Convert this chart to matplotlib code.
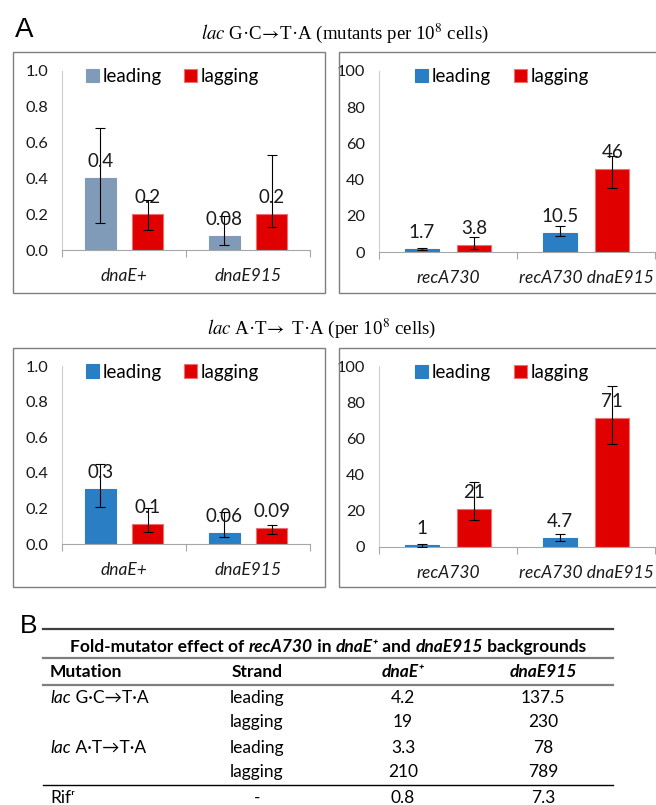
import matplotlib
matplotlib.use('Agg')
import matplotlib.pyplot as plt
from matplotlib.patches import Rectangle
from matplotlib.lines import Line2D
import numpy as np

W, H = 656, 805

SANS = ['Lato', 'DejaVu Sans']
SERIF = ['Liberation Serif', 'DejaVu Serif']

GREYBLUE = '#7f9bb8'
BLUE = '#2a7ec3'
RED = '#e00000'

strains_wt = ['dnaE+', 'dnaE915']
strains_rec = ['recA730', 'recA730 dnaE915']

# lac G.C -> T.A, recA+ backgrounds
gc_wt_lead = [0.40, 0.08]
gc_wt_lead_lo = [0.15, 0.03]
gc_wt_lead_hi = [0.68, 0.19]
gc_wt_lead_lbl = ['0.4', '0.08']
gc_wt_lag = [0.20, 0.20]
gc_wt_lag_lo = [0.11, 0.13]
gc_wt_lag_hi = [0.28, 0.53]
gc_wt_lag_lbl = ['0.2', '0.2']

# lac G.C -> T.A, recA730 backgrounds
gc_rec_lead = [1.7, 10.5]
gc_rec_lead_lo = [0.9, 8.9]
gc_rec_lead_hi = [2.4, 14.4]
gc_rec_lead_lbl = ['1.7', '10.5']
gc_rec_lag = [3.8, 46]
gc_rec_lag_lo = [1.8, 35.4]
gc_rec_lag_hi = [8.3, 53.3]
gc_rec_lag_lbl = ['3.8', '46']

# lac A.T -> T.A, recA+ backgrounds
at_wt_lead = [0.31, 0.06]
at_wt_lead_lo = [0.21, 0.04]
at_wt_lead_hi = [0.45, 0.18]
at_wt_lead_lbl = ['0.3', '0.06']
at_wt_lag = [0.11, 0.09]
at_wt_lag_lo = [0.07, 0.056]
at_wt_lag_hi = [0.20, 0.105]
at_wt_lag_lbl = ['0.1', '0.09']

# lac A.T -> T.A, recA730 backgrounds
at_rec_lead = [1.0, 4.7]
at_rec_lead_lo = [0.2, 3.3]
at_rec_lead_hi = [1.5, 7.4]
at_rec_lead_lbl = ['1', '4.7']
at_rec_lag = [21, 71]
at_rec_lag_lo = [15, 57]
at_rec_lag_hi = [36, 89]
at_rec_lag_lbl = ['21', '71']

# table B
tbl_cols = ['Mutation', 'Strand', 'dnaE\u207a', 'dnaE915']
tbl_mut = [('lac', ' G\u00b7C\u2192T\u00b7A'), None, ('lac', ' A\u00b7T\u2192T\u00b7A'), None]
tbl_strand = ['leading', 'lagging', 'leading', 'lagging', '-']
tbl_wt = ['4.2', '19', '3.3', '210', '0.8']
tbl_e915 = ['137.5', '230', '78', '789', '7.3']

plt.rcParams['font.family'] = SANS
plt.rcParams['mathtext.fontset'] = 'stix'

fig = plt.figure(figsize=(W / 100, H / 100), dpi=100)


def px_axes(x0, x1, ytop, ybot):
    return fig.add_axes([x0 / W, 1 - ybot / H, (x1 - x0) / W, (ybot - ytop) / H])


def frame(x0, x1, ytop, ybot):
    fig.add_artist(Rectangle((x0 / W, 1 - ybot / H), (x1 - x0) / W, (ybot - ytop) / H,
                             transform=fig.transFigure, fill=False, ec='#7f7f7f', lw=1.0))


def bar_panel(ax, cats, lead, lead_lo, lead_hi, lead_lbl, lag, lag_lo, lag_hi, lag_lbl,
              ymax, ystep, fmt, lead_color, legy):
    x = np.arange(len(cats))
    off = 0.19
    w = 0.245
    for xs, v, lo, hi, lbl, col, ec, name in [
            (x - off, lead, lead_lo, lead_hi, lead_lbl, lead_color, lead_color, 'leading'),
            (x + off, lag, lag_lo, lag_hi, lag_lbl, RED, '#f07070', 'lagging')]:
        v = np.array(v, dtype=float)
        err = [v - np.array(lo), np.array(hi) - v]
        ax.bar(xs, v, w, color=col, edgecolor=ec, lw=0.8, label=name, zorder=2)
        ax.errorbar(xs, v, yerr=err, fmt='none', ecolor='black', elinewidth=0.8,
                    capsize=3.5, capthick=0.8, zorder=3)
        for xi, vi, t in zip(xs, v, lbl):
            ax.annotate(t, (xi, vi), xytext=(0, 12), textcoords='offset points',
                        ha='center', va='center', fontsize=13.5, color='#1a1a1a', zorder=4)
    ax.set_xlim(-0.5, len(cats) - 0.5)
    ax.set_ylim(0, ymax)
    ax.set_yticks(np.arange(0, ymax + ystep / 2, ystep))
    ax.set_yticklabels([fmt.format(t) for t in np.arange(0, ymax + ystep / 2, ystep)])
    ax.tick_params(axis='y', length=0, pad=10, labelsize=11.8, labelcolor='#1a1a1a')
    ax.set_xticks(x)
    ax.set_xticklabels(cats, style='italic', fontsize=12.5, color='#1a1a1a')
    ax.tick_params(axis='x', which='major', length=0, pad=13)
    ax.set_xticks(np.arange(-0.5, len(cats)), minor=True)
    ax.tick_params(axis='x', which='minor', length=5, color='#a6a6a6', width=0.8)
    for s in ['top', 'right']:
        ax.spines[s].set_visible(False)
    ax.spines['left'].set_color('#d0d0d0')
    ax.spines['bottom'].set_color('#a6a6a6')
    ax.patch.set_alpha(0)
    ax.legend(loc='center', bbox_to_anchor=(0.445, legy), ncol=2, frameon=False,
              fontsize=13.5, handlelength=0.7, handleheight=0.7, handletextpad=0.2,
              columnspacing=1.2, borderaxespad=0)


# frames around the four charts
frame(13, 325, 52, 293)
frame(339, 680, 52, 293)
frame(13, 325, 348, 587)
frame(339, 680, 348, 587)

ax1 = px_axes(62, 310, 71, 250)
bar_panel(ax1, strains_wt, gc_wt_lead, gc_wt_lead_lo, gc_wt_lead_hi, gc_wt_lead_lbl,
          gc_wt_lag, gc_wt_lag_lo, gc_wt_lag_hi, gc_wt_lag_lbl, 1.0, 0.2, '{:.1f}', GREYBLUE, 0.968)
ax2 = px_axes(379, 655, 71, 252)
bar_panel(ax2, strains_rec, gc_rec_lead, gc_rec_lead_lo, gc_rec_lead_hi, gc_rec_lead_lbl,
          gc_rec_lag, gc_rec_lag_lo, gc_rec_lag_hi, gc_rec_lag_lbl, 100, 20, '{:.0f}', BLUE, 0.968)
ax3 = px_axes(62, 310, 366, 544)
bar_panel(ax3, strains_wt, at_wt_lead, at_wt_lead_lo, at_wt_lead_hi, at_wt_lead_lbl,
          at_wt_lag, at_wt_lag_lo, at_wt_lag_hi, at_wt_lag_lbl, 1.0, 0.2, '{:.1f}', BLUE, 0.966)
ax4 = px_axes(379, 655, 366, 547)
bar_panel(ax4, strains_rec, at_rec_lead, at_rec_lead_lo, at_rec_lead_hi, at_rec_lead_lbl,
          at_rec_lag, at_rec_lag_lo, at_rec_lag_hi, at_rec_lag_lbl, 100, 20, '{:.0f}', BLUE, 0.966)

# panel letters and chart titles
fig.text(15 / W, 1 - 30 / H, 'A', fontsize=20, family=['Liberation Sans', 'DejaVu Sans'], va='center')
fig.text(20 / W, 1 - 626 / H, 'B', fontsize=19, family=['Liberation Sans', 'DejaVu Sans'], va='center')
fig.text(345 / W, 1 - 33 / H,
         '$\\mathit{lac}$ G\u00b7C$\\!\\rightarrow\\!$T\u00b7A (mutants per 10$^{8}$ cells)',
         family=SERIF, fontsize=13.6, ha='center', va='center', math_fontfamily='stix')
fig.text(322 / W, 1 - 328 / H,
         '$\\mathit{lac}$ A\u00b7T$\\!\\rightarrow$ T\u00b7A (per 10$^{8}$ cells)',
         family=SERIF, fontsize=13.6, ha='center', va='center', math_fontfamily='stix')

renderer = fig.canvas.get_renderer()


def rich(x, y, parts, ha='center', size=12.5):
    # parts: (text, weight, style) placed one after the other on one baseline
    texts = [fig.text(0, 0, t, fontsize=size, fontweight=wt, style=st, va='center')
             for t, wt, st in parts]
    widths = [t.get_window_extent(renderer).width for t in texts]
    total = sum(widths)
    cur = x - total / 2 if ha == 'center' else x
    for t, wpx in zip(texts, widths):
        t.set_position((cur / W, 1 - y / H))
        cur += wpx
    return texts


def hline(x0, x1, y, color, lw):
    fig.add_artist(Line2D([x0 / W, x1 / W], [1 - y / H, 1 - y / H], color=color, lw=lw,
                          transform=fig.transFigure))


TX0, TX1 = 43, 613
hline(TX0, TX1, 629, '#404040', 1.6)
hline(TX0, TX1, 658, '#7f7f7f', 1.6)
hline(TX0, TX1, 685, '#7f7f7f', 1.6)
hline(TX0, TX1, 785, '#000000', 1.0)

rich(328, 647, [('Fold-mutator effect of ', 'bold', 'normal'), ('recA730', 'bold', 'italic'),
                (' in ', 'bold', 'normal'), ('dnaE\u207a', 'bold', 'italic'),
                (' and ', 'bold', 'normal'), ('dnaE915', 'bold', 'italic'),
                (' backgrounds', 'bold', 'normal')])

col_x = [50, 257, 403, 543]
rich(col_x[0], 672, [(tbl_cols[0], 'bold', 'normal')], ha='left')
rich(col_x[1], 672, [(tbl_cols[1], 'bold', 'normal')])
rich(col_x[2], 672, [(tbl_cols[2], 'bold', 'italic')])
rich(col_x[3], 672, [(tbl_cols[3], 'bold', 'italic')])

row_y = [698, 722, 748, 772, 798]
for i, y in enumerate(row_y):
    if i < len(tbl_mut) and tbl_mut[i] is not None:
        rich(col_x[0], y, [(tbl_mut[i][0], 'normal', 'italic'), (tbl_mut[i][1], 'normal', 'normal')], ha='left')
    rich(col_x[1], y, [(tbl_strand[i], 'normal', 'normal')])
    rich(col_x[2], y, [(tbl_wt[i], 'normal', 'normal')])
    rich(col_x[3], y, [(tbl_e915[i], 'normal', 'normal')])
rich(col_x[0], row_y[4], [('Rif\u02b3', 'normal', 'normal')], ha='left')

fig.savefig('out.png', dpi=100)
